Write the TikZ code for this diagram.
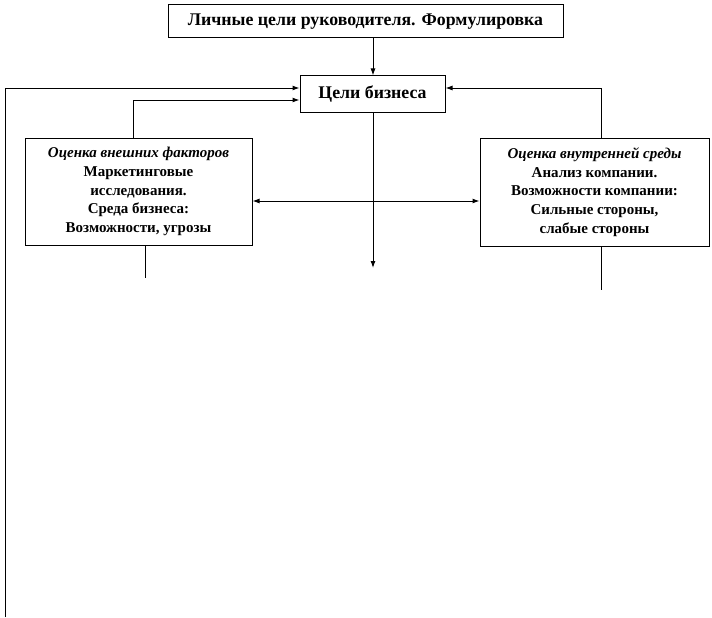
\documentclass[tikz,border=0pt]{standalone}
\usepackage{fontspec}
\setmainfont{Liberation Serif}
\usetikzlibrary{arrows.meta}
\begin{document}
\begin{tikzpicture}[x=1pt,y=-1pt,
  box/.style={draw,line width=1pt,inner sep=0pt,align=center},
  conn/.style={line width=1pt},
  arr/.style={conn,-{Latex[length=7pt,width=5pt]}},
  big/.style={font=\fontsize{17.8}{20}\selectfont\bfseries},
  small/.style={font=\fontsize{15}{18.6}\selectfont\bfseries}]
\useasboundingbox (0,0) rectangle (712,618);
\node[box,big,minimum width=395pt,minimum height=33pt] (top) at (365.5,21.5) {Личные цели руководителя. Формулировка};
\node[box,big,minimum width=145pt,minimum height=36pt] (goal) at (372.5,94) {Цели бизнеса};
\node[box,small,minimum width=227pt,minimum height=107pt] (ext) at (138.5,191.5) {\textit{Оценка внешних факторов}\\Маркетинговые\\исследования.\\Среда бизнеса:\\Возможности, угрозы};
\node[box,small,minimum width=229pt,minimum height=108pt] (int) at (594.5,192) {\textit{Оценка внутренней среды}\\Анализ компании.\\Возможности компании:\\Сильные стороны,\\слабые стороны};
\coordinate (lb) at (5,617);
\coordinate (cd) at (373,268);
\coordinate (le) at (145,278);
\coordinate (re) at (601,290);
\draw[arr] (top.south -| cd) -- (goal.north -| cd);
\draw[arr] (lb) -- (5,88) -- (goal.west |- 0,88);
\draw[arr] (ext.north -| 133,0) -- (133,100) -- (goal.west |- 0,100);
\draw[arr] (int.north -| re) -- (601,88) -- (goal.east |- 0,88);
\draw[arr] (goal.south -| cd) -- (cd);
\draw[conn,{Latex[length=7pt,width=5pt]}-{Latex[length=7pt,width=5pt]}] (ext.east |- 0,201) -- (int.west |- 0,201);
\draw[conn] (ext.south -| le) -- (le);
\draw[conn] (int.south -| re) -- (re);
\end{tikzpicture}
\end{document}
